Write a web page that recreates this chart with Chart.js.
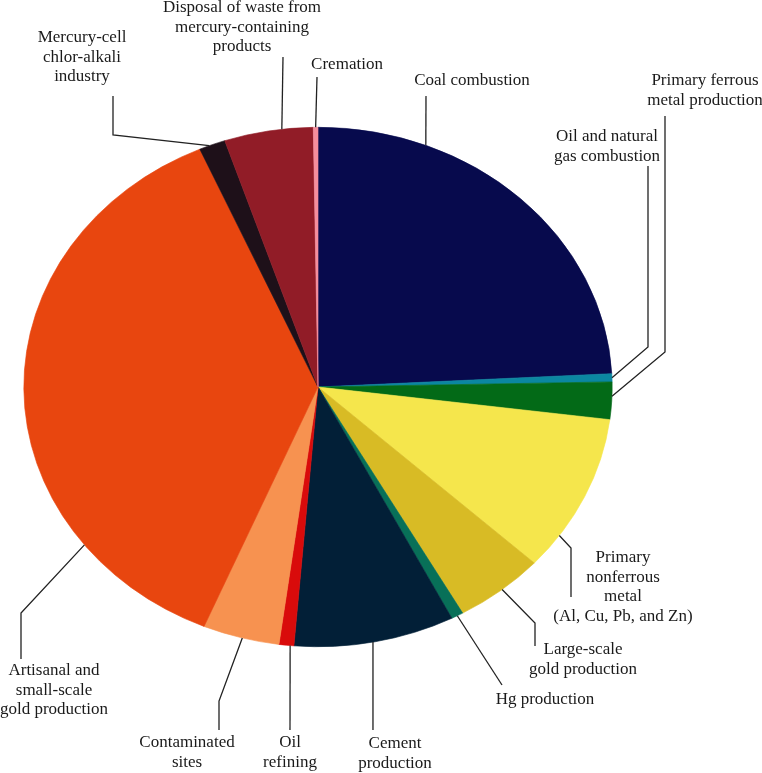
<!DOCTYPE html>
<html>
<head>
<meta charset="utf-8">
<script src="https://cdn.jsdelivr.net/npm/chart.js@4"></script>
<style>
  html, body { margin: 0; padding: 0; background: #fff; }
  #wrap { width: 762px; height: 773px; }
</style>
</head>
<body>
<div id="wrap"><canvas id="mercuryChart" width="762" height="773"></canvas></div>
<script>
// Sources d'émissions (sens horaire depuis midi)
const categories = [
    'Coal combustion',
    'Oil and natural gas combustion',
    'Primary ferrous metal production',
    'Primary nonferrous metal (Al, Cu, Pb, and Zn)',
    'Large-scale gold production',
    'Hg production',
    'Cement production',
    'Oil refining',
    'Contaminated sites',
    'Artisanal and small-scale gold production',
    'Mercury-cell chlor-alkali industry',
    'Disposal of waste from mercury-containing products',
    'Cremation'
];
const emissions = [474, 9.9, 45.5, 193, 97.3, 13, 173, 16, 82.5, 727, 28.4, 95.6, 5];
const sliceColors = [
    '#070a4d', '#0b87a1', '#036a17', '#f5e64c', '#d8bb25', '#087058', '#021f37',
    '#d90b0b', '#f79250', '#e8460f', '#1e1019', '#911c27', '#f58e9d'
];

// Mise en page des étiquettes : lignes de texte, position, trait de rappel
const labelLayout = [
    { lines: ['Coal combustion'], x: 472, y: 81, at: 0.247, path: [[426, 96]] },
    { lines: ['Oil and natural', 'gas combustion'], x: 607, y: 137, at: 0.5, path: [[648, 347], [648, 166]] },
    { lines: ['Primary ferrous', 'metal production'], x: 705, y: 81, at: 0.38, path: [[665, 352], [665, 116]] },
    { lines: ['Primary', 'nonferrous', 'metal', '(Al, Cu, Pb, and Zn)'], x: 623, y: 558, at: 0.78, path: [[571, 548], [571, 597]] },
    { lines: ['Large-scale', 'gold production'], x: 583, y: 650, at: 0.48, path: [[535, 623], [535, 646]] },
    { lines: ['Hg production'], x: 545, y: 700, at: 0.5, path: [[502, 685]] },
    { lines: ['Cement', 'production'], x: 395, y: 744, at: 0.513, path: [[373, 730]] },
    { lines: ['Oil', 'refining'], x: 290, y: 743, at: 0.25, path: [[290, 730]] },
    { lines: ['Contaminated', 'sites'], x: 187, y: 743, at: 0.48, path: [[219, 701], [219, 730]] },
    { lines: ['Artisanal and', 'small-scale', 'gold production'], x: 54, y: 671, at: 0.223, path: [[21, 613], [21, 659]] },
    { lines: ['Mercury-cell', 'chlor-alkali', 'industry'], x: 82, y: 38, at: 0.38, path: [[113, 135], [113, 96]] },
    { lines: ['Disposal of waste from', 'mercury-containing', 'products'], x: 242, y: 8, at: 0.65, path: [[283, 57]] },
    { lines: ['Cremation'], x: 347, y: 65, at: 0.5, path: [[317, 77]] }
];

const stretchX = 294.5 / 260; // le camembert d'origine est légèrement ovale
const lineH = 19.5;

const ellipsePlugin = {
    id: 'ellipse',
    beforeDatasetsDraw(chart) {
        const arc = chart.getDatasetMeta(0).data[0];
        const ctx = chart.ctx;
        ctx.save();
        ctx.translate(arc.x, arc.y);
        ctx.scale(stretchX, 1);
        ctx.translate(-arc.x, -arc.y);
    },
    afterDatasetsDraw(chart) {
        chart.ctx.restore();
    }
};

const labelsPlugin = {
    id: 'pieLabels',
    afterDraw(chart) {
        const ctx = chart.ctx;
        const arcs = chart.getDatasetMeta(0).data;
        ctx.save();
        ctx.strokeStyle = '#222';
        ctx.lineWidth = 1.3;
        labelLayout.forEach(function (lab, i) {
            const arc = arcs[i];
            const a = arc.startAngle + (arc.endAngle - arc.startAngle) * lab.at;
            const px = arc.x + arc.outerRadius * stretchX * Math.cos(a);
            const py = arc.y + arc.outerRadius * Math.sin(a);
            ctx.beginPath();
            ctx.moveTo(px, py);
            lab.path.forEach(function (p) { ctx.lineTo(p[0], p[1]); });
            ctx.stroke();
        });
        ctx.fillStyle = '#1a1a1a';
        ctx.font = '17px "Liberation Serif", "DejaVu Serif", serif';
        ctx.textAlign = 'center';
        ctx.textBaseline = 'middle';
        labelLayout.forEach(function (lab) {
            lab.lines.forEach(function (t, k) {
                ctx.fillText(t, lab.x, lab.y + k * lineH);
            });
        });
        ctx.restore();
    }
};

const ctx = document.getElementById('mercuryChart').getContext('2d');
new Chart(ctx, {
    type: 'pie',
    data: {
        labels: categories,
        datasets: [{
            data: emissions,
            backgroundColor: sliceColors,
            borderColor: sliceColors,
            borderWidth: 0.6
        }]
    },
    options: {
        responsive: false,
        devicePixelRatio: 1,
        animation: false,
        layout: {
            padding: { left: 58, right: 184, top: 127, bottom: 126 }
        },
        plugins: {
            legend: { display: false },
            tooltip: { enabled: false }
        }
    },
    plugins: [ellipsePlugin, labelsPlugin]
});
</script>
</body>
</html>
